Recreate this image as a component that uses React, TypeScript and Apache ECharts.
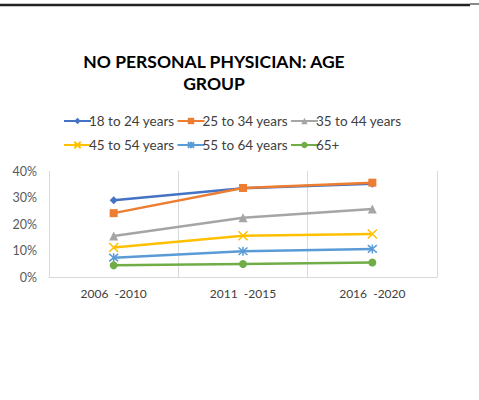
import React, { useEffect, useRef } from "react";
import * as echarts from "echarts";

const categories = ["2006  -2010", "2011  -2015", "2016  -2020"];
const seriesNames = ["18 to 24 years", "25 to 34 years", "35 to 44 years", "45 to 54 years", "55 to 64 years", "65+"];
const age18to24 = [0.29, 0.335, 0.352];
const age25to34 = [0.241, 0.336, 0.356];
const age35to44 = [0.155, 0.224, 0.257];
const age45to54 = [0.111, 0.156, 0.162];
const age55to64 = [0.073, 0.097, 0.106];
const age65plus = [0.044, 0.049, 0.055];
const yTicks = [0, 0.1, 0.2, 0.3, 0.4];

const colors = ["#4472C4", "#ED7D31", "#A5A5A5", "#FFC000", "#5B9BD5", "#70AD47"];
const xPath = "path://M0,0L10,10M10,0L0,10";
const starPath = "path://M0,0L10,10M10,0L0,10M5,-1L5,11";
const symbols = ["diamond", "rect", "triangle", xPath, starPath, "circle"];
const symbolSizes = [8, 8, 9, 9, 9, 8];

export default function App() {
  const ref = useRef<HTMLDivElement>(null);
  useEffect(() => {
    if (!ref.current) return;
    const chart = echarts.init(ref.current, null, { renderer: "svg" });
    const allData = [age18to24, age25to34, age35to44, age45to54, age55to64, age65plus];
    const font = "Lato, 'Open Sans', sans-serif";
    const legendCommon = {
      left: 58,
      itemWidth: 27,
      itemHeight: 8,
      itemGap: 2,
      textStyle: { fontFamily: font, fontSize: 13.5, color: "#404040", padding: [0, 0, 0, -7] },
    };
    chart.setOption({
      animation: false,
      backgroundColor: "#ffffff",
      title: {
        text: "NO PERSONAL PHYSICIAN: AGE\nGROUP",
        left: 209,
        top: 45,
        textAlign: "center",
        textStyle: {
          fontFamily: font,
          fontWeight: "bold",
          fontSize: 17.5,
          lineHeight: 22,
          color: "#000000",
          align: "center",
        },
      },
      legend: [
        { ...legendCommon, data: seriesNames.slice(0, 3), top: 109 },
        { ...legendCommon, data: seriesNames.slice(3), top: 133 },
      ],
      grid: { left: 49, right: 42, top: 171, bottom: 123, containLabel: false },
      xAxis: {
        type: "category",
        data: categories,
        boundaryGap: true,
        axisLine: { show: true, lineStyle: { color: "#D9D9D9", width: 1 } },
        axisTick: { show: false },
        splitLine: { show: true, lineStyle: { color: "#D9D9D9", width: 1 } },
        axisLabel: { fontFamily: font, fontSize: 12, color: "#404040", margin: 10 },
      },
      yAxis: {
        type: "value",
        min: yTicks[0],
        max: yTicks[yTicks.length - 1],
        interval: 0.1,
        axisLine: { show: false },
        axisTick: { show: false },
        splitLine: { show: false },
        axisLabel: {
          fontFamily: font,
          fontSize: 12.5,
          color: "#595959",
          margin: 12,
          formatter: (v: number) => Math.round(v * 100) + "%",
        },
      },
      series: allData.map((d, i) => ({
        name: seriesNames[i],
        type: "line",
        data: d,
        symbol: symbols[i],
        symbolSize: symbolSizes[i],
        showAllSymbol: true,
        lineStyle: { color: colors[i], width: 2.5 },
        itemStyle: {
          color: colors[i],
          borderColor: colors[i],
          borderWidth: i === 3 || i === 4 ? 1.5 : 0,
        },
        emphasis: { disabled: true },
      })),
      graphic: [
        { type: "line", shape: { x1: 0, y1: 5, x2: 470, y2: 5 }, style: { stroke: "#222222", lineWidth: 2.5 } },
        { type: "rect", shape: { x: 470, y: 3, width: 9, height: 2 }, style: { fill: "#8a8a8a" } },
      ],
    });
    return () => chart.dispose();
  }, []);
  return <div ref={ref} style={{ position: "fixed", left: 0, top: 0, width: 479, height: 400 }} />;
}
